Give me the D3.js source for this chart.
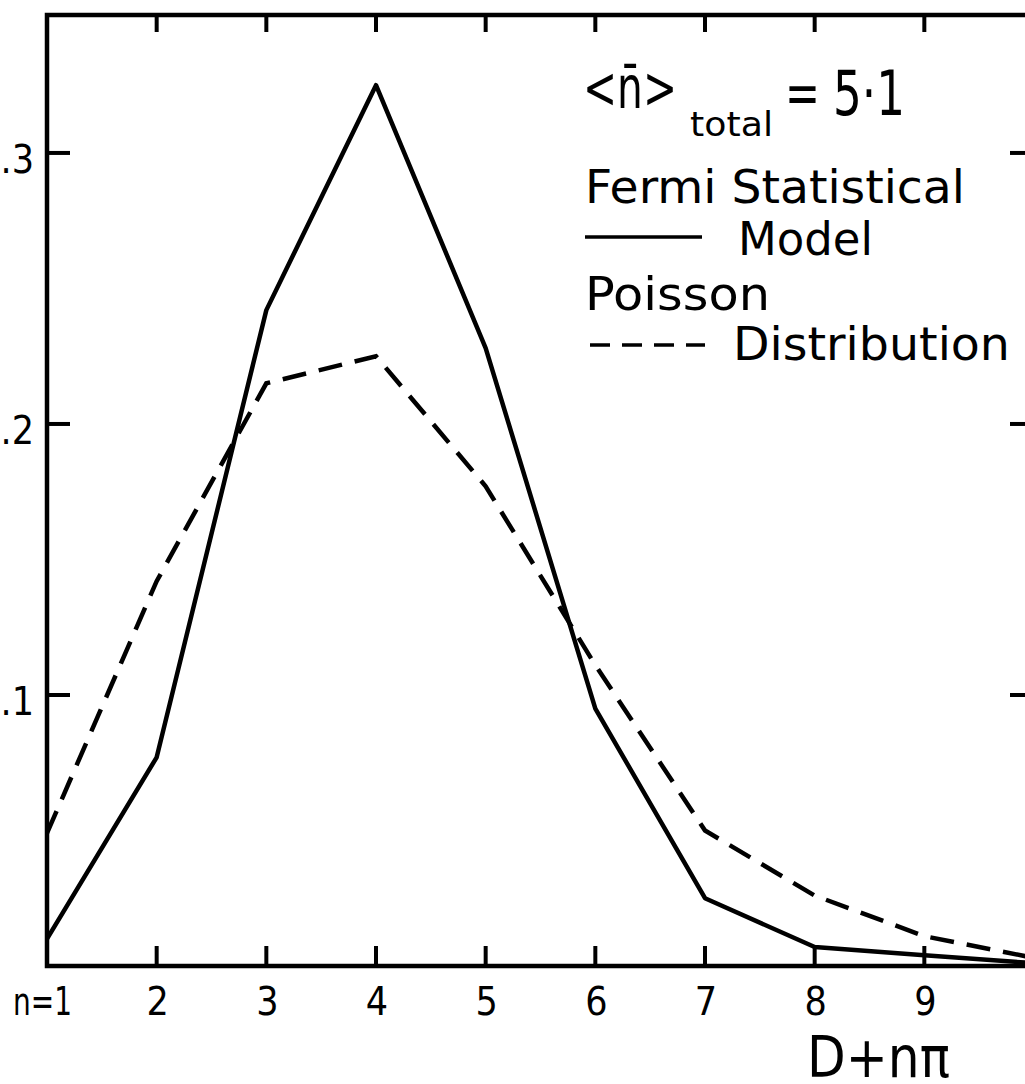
<!DOCTYPE html>
<html>
<head>
<meta charset="utf-8">
<script src="https://cdn.jsdelivr.net/npm/d3@7"></script>
<style>
  html, body { margin: 0; padding: 0; background: #fff; }
  svg { display: block; }
  text { font-family: "DejaVu Sans", sans-serif; fill: #000; }
  .ticklabel { font-family: "DejaVu Sans Condensed", "DejaVu Sans", sans-serif; }
</style>
</head>
<body>
<div id="chart"></div>
<script>
// Multiplicity n (number of pions)
var nValues = [1, 2, 3, 4, 5, 6, 7, 8, 9, 10];
// Fermi statistical model (solid)
var fermiValues = [0.010, 0.077, 0.242, 0.325, 0.228, 0.095, 0.025, 0.007, 0.004, 0.001];
// Poisson distribution (dashed)
var poissonValues = [0.049, 0.142, 0.215, 0.225, 0.177, 0.111, 0.050, 0.026, 0.011, 0.003];
// Tick labels
var xTickValues = [2, 3, 4, 5, 6, 7, 8, 9];
var xTickLabels = ["n=1", "2", "3", "4", "5", "6", "7", "8", "9", ""];
var yTickValues = [0.1, 0.2, 0.3];
var yTickLabels = [".1", ".2", ".3"];

var width = 1025, height = 1084;

var svg = d3.select("#chart").append("svg")
    .attr("width", width)
    .attr("height", height);

svg.append("rect").attr("width", width).attr("height", height).attr("fill", "#fff");

var xScale = d3.scaleLinear().domain([1, 10]).range([47, 1034]);
var yScale = d3.scaleLinear().domain([0, 0.3509]).range([966, 15]);

var x0 = xScale.range()[0], x1 = xScale.range()[1];
var yBottom = yScale(0), yTop = yScale.range()[1];

// Frame
svg.append("rect")
    .attr("x", x0).attr("y", yTop)
    .attr("width", x1 - x0).attr("height", yBottom - yTop)
    .attr("fill", "none")
    .attr("stroke", "#000")
    .attr("stroke-width", 4.5);

// Inward tick marks on all four sides
function tickMarks(cls, values, x1f, x2f, y1f, y2f) {
  svg.append("g").attr("class", cls)
    .selectAll("line").data(values).join("line")
      .attr("x1", x1f).attr("x2", x2f)
      .attr("y1", y1f).attr("y2", y2f)
      .attr("stroke", "#000")
      .attr("stroke-width", 4);
}
function xs(d) { return xScale(d); }
function ys(d) { return yScale(d); }

tickMarks("xb", xTickValues, xs, xs, yBottom, yBottom - 20);
tickMarks("xt", xTickValues, xs, xs, yTop, yTop + 17);
tickMarks("yl", yTickValues, x0, x0 + 23, ys, ys);
tickMarks("yr", yTickValues, x1, x1 - 24, ys, ys);

// Tick labels
svg.append("g").selectAll("text").data(xTickValues).join("text")
    .attr("class", "ticklabel")
    .attr("x", function(d) { return xScale(d) + 1; })
    .attr("y", yBottom + 49)
    .attr("text-anchor", "middle")
    .attr("font-size", 39)
    .text(function(d) { return xTickLabels[nValues.indexOf(d)]; });

svg.append("g").selectAll("text").data(yTickValues).join("text")
    .attr("class", "ticklabel")
    .attr("x", x0 - 13)
    .attr("y", function(d) { return yScale(d) + 20; })
    .attr("text-anchor", "end")
    .attr("font-size", 39)
    .text(function(d, i) { return yTickLabels[i]; });

// Curves
var line = d3.line()
    .x(function(d) { return xScale(d.n); })
    .y(function(d) { return yScale(d.v); });

var fermi = nValues.map(function(n, i) { return {n: n, v: fermiValues[i]}; });
var poisson = nValues.map(function(n, i) { return {n: n, v: poissonValues[i]}; });

svg.append("path")
    .datum(fermi)
    .attr("d", line)
    .attr("fill", "none")
    .attr("stroke", "#000")
    .attr("stroke-width", 4.5)
    .attr("stroke-linejoin", "round");

svg.append("path")
    .datum(poisson)
    .attr("d", line)
    .attr("fill", "none")
    .attr("stroke", "#000")
    .attr("stroke-width", 4.5)
    .attr("stroke-dasharray", "24,13");

// text helper: printed lettering is narrower than DejaVu, so squeeze the
// text horizontally to the width measured on the figure
function label(x, y, size, len, str, cls) {
  var t = svg.append("text")
      .attr("font-size", size)
      .text(str);
  if (cls) t.attr("class", cls);
  var w = t.node().getComputedTextLength();
  t.attr("transform", "translate(" + x + "," + y + ") scale(" + (len / w) + ",1)");
  return t;
}

// first x label "n=1" sits at the corner
label(13, yBottom + 49, 39, 59, xTickLabels[0], "ticklabel");

// Annotation: <n̄>_total = 5·1
label(583, 108, 58, 94, "<n\u0304>");
label(690, 136, 33, 83, "total");
label(785, 113, 58, 35, "=");
label(833, 115, 62, 72, "5\u00b71");

// Legend
label(585, 203, 47, 380, "Fermi Statistical");
svg.append("line")
    .attr("x1", 585).attr("x2", 702).attr("y1", 237).attr("y2", 237)
    .attr("stroke", "#000").attr("stroke-width", 3.5);
label(738, 255, 47, 135, "Model");
label(585, 310, 47, 185, "Poisson");
svg.append("line")
    .attr("x1", 590).attr("x2", 705).attr("y1", 345).attr("y2", 345)
    .attr("stroke", "#000").attr("stroke-width", 3.5)
    .attr("stroke-dasharray", "20,12");
label(733, 360, 47, 277, "Distribution");

// Axis title
label(807, 1077, 57, 143, "D+n\u03c0");
</script>
</body>
</html>
